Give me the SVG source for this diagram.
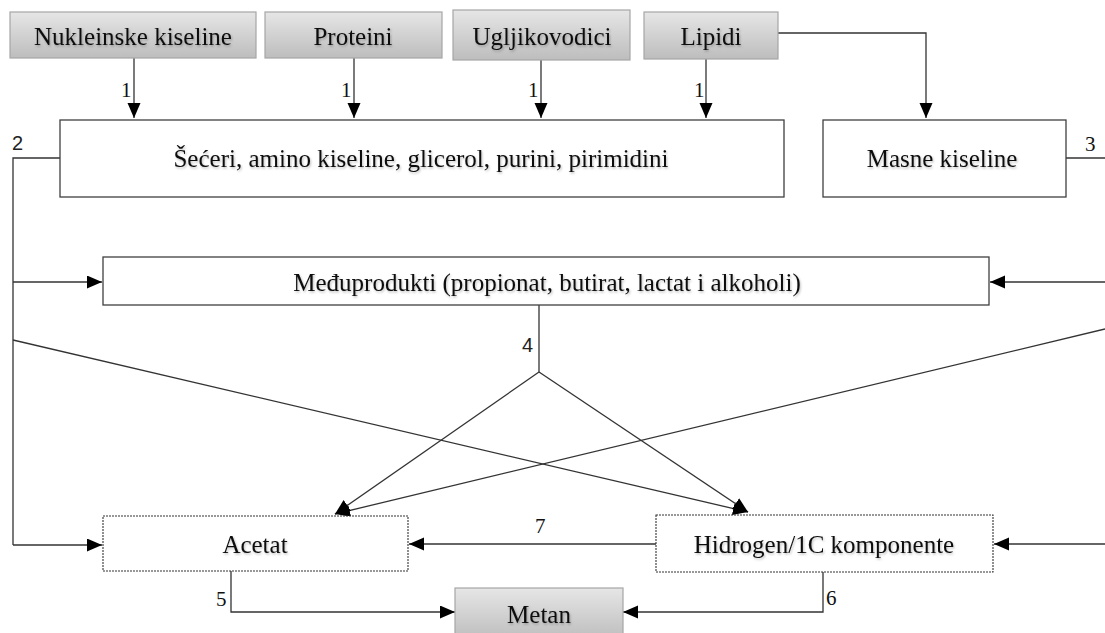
<svg xmlns="http://www.w3.org/2000/svg" width="1105" height="633" viewBox="0 0 1105 633">
<style>
.box{fill:#fff;stroke:#404040;stroke-width:1.3}
.gbox{fill:url(#g);stroke:#a6a6a6;stroke-width:1.2}
.dbox{fill:#fff;stroke:#333;stroke-width:1.1;stroke-dasharray:2 1}
.t{font-family:"Liberation Serif","Times New Roman",serif;font-size:25px;fill:#111;text-anchor:middle;filter:url(#sh)}
.n{font-family:"Liberation Serif","Times New Roman",serif;font-size:21px;fill:#111}
.ns{font-family:"Liberation Sans",Arial,sans-serif;font-size:20px;fill:#222}
.c{fill:none;stroke:#333;stroke-width:1.3}
.a{marker-end:url(#ah)}
</style>
<defs>
<linearGradient id="g" x1="0" y1="0" x2="0" y2="1">
<stop offset="0" stop-color="#e6e6e6"/>
<stop offset="1" stop-color="#bdbdbd"/>
</linearGradient>
<filter id="sh" x="-5%" y="-20%" width="110%" height="150%">
<feDropShadow dx="1" dy="1.5" stdDeviation="1" flood-color="#000" flood-opacity="0.25"/>
</filter>
<marker id="ah" markerUnits="userSpaceOnUse" markerWidth="16" markerHeight="14" refX="15" refY="6.5" orient="auto">
<path d="M0,0 L15,6.5 L0,13 z" fill="#000"/>
</marker>
</defs>

<g id="connectors">
<line class="c a" x1="134" y1="58" x2="134" y2="118"/>
<line class="c a" x1="354" y1="58" x2="354" y2="118"/>
<line class="c a" x1="541" y1="60" x2="541" y2="118"/>
<line class="c a" x1="706" y1="59" x2="706" y2="118"/>
<polyline class="c a" points="778,33 926,33 926,118"/>
<polyline class="c" points="60,158 13,158 13,545"/>
<line class="c a" x1="13" y1="282" x2="102" y2="282"/>
<line class="c a" x1="13" y1="545" x2="102" y2="545"/>
<line class="c a" x1="13" y1="340" x2="748" y2="512"/>
<line class="c" x1="1066" y1="158" x2="1105" y2="158"/>
<line class="c a" x1="1105" y1="282" x2="990" y2="282"/>
<line class="c a" x1="1105" y1="329" x2="335" y2="514"/>
<line class="c a" x1="1105" y1="544" x2="994" y2="544"/>
<polyline class="c" points="539,305 539,372"/>
<line class="c a" x1="539" y1="372" x2="335" y2="514"/>
<line class="c a" x1="539" y1="372" x2="748" y2="512"/>
<line class="c a" x1="656" y1="544" x2="409" y2="544"/>
<polyline class="c a" points="231,571 231,612 455,612"/>
<polyline class="c a" points="823,572 823,612 623,612"/>
<text class="n" x="121" y="97">1</text>
<text class="n" x="341" y="97">1</text>
<text class="n" x="528" y="97">1</text>
<text class="n" x="694" y="97">1</text>
<text class="ns" x="12" y="150">2</text>
<text class="n" x="1085" y="151">3</text>
<text class="ns" x="522" y="352">4</text>
<text class="n" x="216" y="606">5</text>
<text class="n" x="826" y="605">6</text>
<text class="n" x="535" y="533">7</text>
</g>

<g id="n-nukleinske"><rect class="gbox" x="10" y="12" width="246" height="46"/><text class="t" x="133" y="45">Nukleinske kiseline</text></g>
<g id="n-proteini"><rect class="gbox" x="265" y="12" width="177" height="46"/><text class="t" x="353" y="45">Proteini</text></g>
<g id="n-ugljikovodici"><rect class="gbox" x="453" y="10" width="177" height="50"/><text class="t" x="542" y="45">Ugljikovodici</text></g>
<g id="n-lipidi"><rect class="gbox" x="644" y="12" width="134" height="47"/><text class="t" x="711" y="45">Lipidi</text></g>
<g id="n-seceri"><rect class="box" x="60" y="120" width="724" height="77"/><text class="t" x="421" y="167">Šećeri, amino kiseline, glicerol, purini, pirimidini</text></g>
<g id="n-masne"><rect class="box" x="823" y="120" width="243" height="77"/><text class="t" x="942" y="167">Masne kiseline</text></g>
<g id="n-meduprodukti"><rect class="box" x="103" y="257" width="886" height="48"/><text class="t" x="547" y="291">Međuprodukti (propionat, butirat, lactat i alkoholi)</text></g>
<g id="n-acetat"><rect class="dbox" x="103" y="516" width="305" height="55"/><text class="t" x="255" y="553">Acetat</text></g>
<g id="n-hidrogen"><rect class="dbox" x="656" y="515" width="337" height="57"/><text class="t" x="824" y="553">Hidrogen/1C komponente</text></g>
<g id="n-metan"><rect class="gbox" x="455" y="588" width="168" height="52"/><text class="t" x="539" y="623">Metan</text></g>
</svg>
